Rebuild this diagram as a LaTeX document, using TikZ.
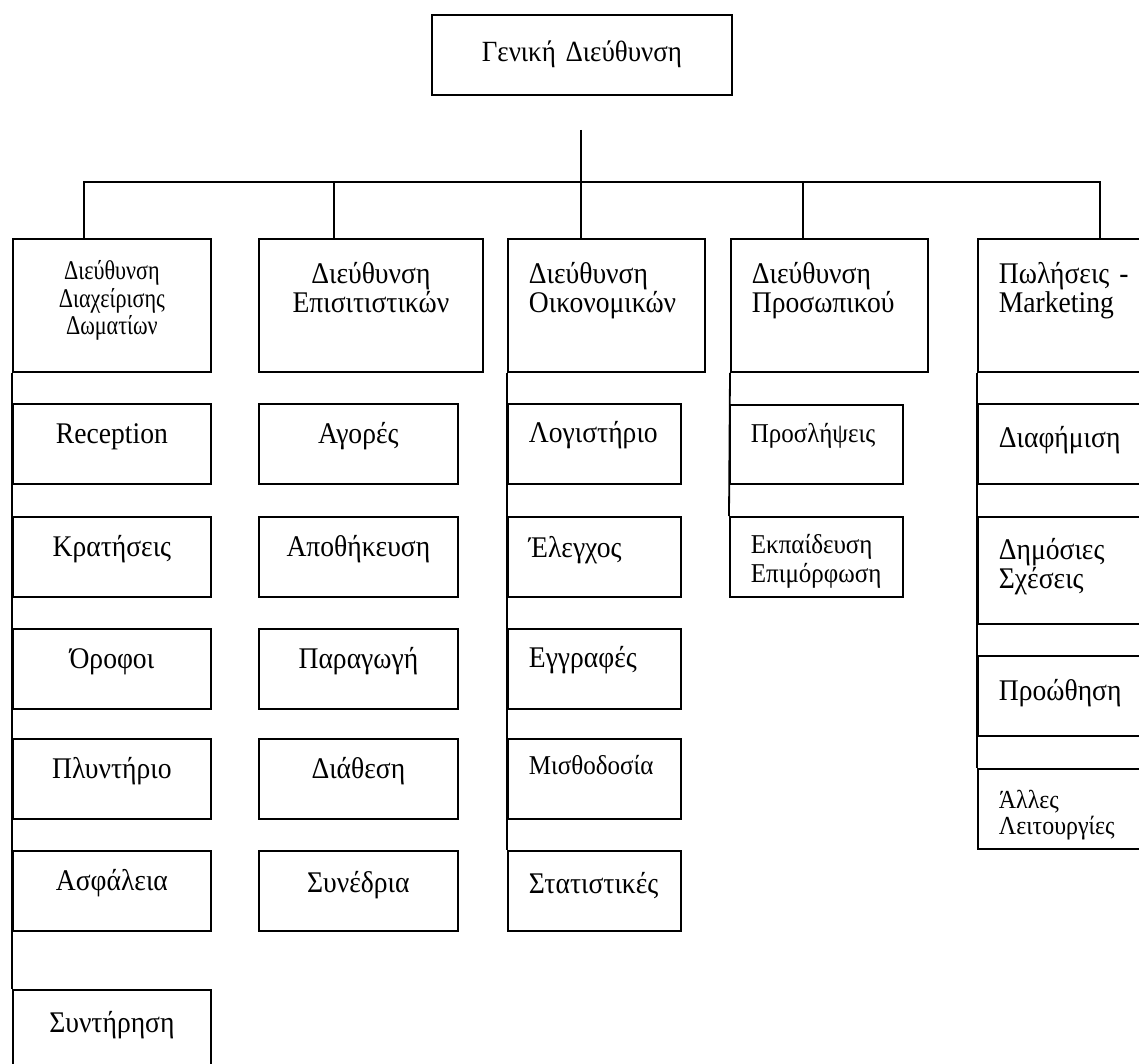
\documentclass[tikz,border=0pt]{standalone}
\usepackage{fontspec}
\setmainfont[FakeStretch=0.92]{Liberation Serif}
\newfontfamily\narrowserif[FakeStretch=0.82]{Liberation Serif}
\begin{document}
\begin{tikzpicture}[x=1pt,y=-1pt,
  bx/.style={draw, line width=1.8pt, inner sep=0pt, anchor=north west, font=\fontsize{30}{29}\selectfont},
  cbx/.style n args={3}{bx, align=center, text width=#1, text height=#2, text depth=#3},
  lbx/.style n args={3}{bx, align=left, inner xsep=21pt, text width=#1, text height=#2, text depth=#3},
  small/.style={font=\fontsize{27.2}{29}\selectfont},
  link/.style={line width=1.8pt},
  trunk/.style={line width=2.8pt}]
\fill[white] (0,0) rectangle (1139,1064);
\clip (0,0) rectangle (1139,1064);

% top
\node[cbx={300pt}{47pt}{33pt}, font=\fontsize{29.3}{30}\selectfont] (top) at (431,14) {Γενική Διεύθυνση};

% heads
\node[cbx={198pt}{41pt}{92pt}, font=\narrowserif\fontsize{27}{27.3}\selectfont] (h1) at (12,238) {Διεύθυνση\\Διαχείρισης\\Δωματίων};
\node[cbx={224pt}{45pt}{88pt}] (h2) at (258,238) {Διεύθυνση\\Επισιτιστικών};
\node[lbx={155pt}{45pt}{88pt}] (h3) at (507,238) {Διεύθυνση\\Οικονομικών};
\node[lbx={155pt}{45pt}{88pt}] (h4) at (730,238) {Διεύθυνση\\Προσωπικού};
\node[lbx={180pt}{45pt}{88pt}] (h5) at (977,238) {Πωλήσεις -\\Marketing};

% column 1
\node[cbx={198pt}{40pt}{40pt}] (c1a) at (12,403) {Reception};
\node[cbx={198pt}{40pt}{40pt}] (c1b) at (12,516) {Κρατήσεις};
\node[cbx={198pt}{40pt}{40pt}] (c1c) at (12,628) {Όροφοι};
\node[cbx={198pt}{40pt}{40pt}] (c1d) at (12,738) {Πλυντήριο};
\node[cbx={198pt}{40pt}{40pt}] (c1e) at (12,850) {Ασφάλεια};
\node[cbx={198pt}{43pt}{57pt}] (c1f) at (12,989) {Συντήρηση};

% column 2
\node[cbx={199pt}{40pt}{40pt}] (c2a) at (258,403) {Αγορές};
\node[cbx={199pt}{40pt}{40pt}] (c2b) at (258,516) {Αποθήκευση};
\node[cbx={199pt}{40pt}{40pt}] (c2c) at (258,628) {Παραγωγή};
\node[cbx={199pt}{40pt}{40pt}] (c2d) at (258,738) {Διάθεση};
\node[cbx={199pt}{42pt}{38pt}] (c2e) at (258,850) {Συνέδρια};

% column 3
\node[lbx={131pt}{39pt}{41pt}] (c3a) at (507,403) {Λογιστήριο};
\node[lbx={131pt}{41pt}{39pt}] (c3b) at (507,516) {Έλεγχος};
\node[lbx={131pt}{39pt}{41pt}] (c3c) at (507,628) {Εγγραφές};
\node[lbx={131pt}{36pt}{44pt}, small] (c3d) at (507,738) {Μισθοδοσία};
\node[lbx={131pt}{43pt}{37pt}] (c3e) at (507,850) {Στατιστικές};

% column 4
\node[lbx={131pt}{38pt}{41pt}, small] (c4a) at (729,404) {Προσλήψεις};
\node[lbx={131pt}{37pt}{43pt}, small] (c4b) at (729,516) {Εκπαίδευση\\Επιμόρφωση};

% column 5
\node[lbx={180pt}{44pt}{36pt}] (c5a) at (977,403) {Διαφήμιση};
\node[lbx={180pt}{43pt}{64pt}] (c5b) at (977,516) {Δημόσιες\\Σχέσεις};
\node[lbx={180pt}{45pt}{35pt}] (c5c) at (977,655) {Προώθηση};
\node[lbx={180pt}{40pt}{40pt}, font=\fontsize{26}{26}\selectfont] (c5d) at (977,768) {Άλλες\\Λειτουργίες};

% connectors
\coordinate (tk) at (581,130);
\coordinate (tkb) at (581,210);
\coordinate (bus) at (581,182);
\draw[trunk] (tk) -- (tkb);
\draw[link] (bus) -| ([xshift=72pt]h1.north west);
\draw[link] (bus) -| ([xshift=76pt]h2.north west);
\draw[link] (bus) -- ([xshift=74pt]h3.north west);
\draw[link] (bus) -| ([xshift=73pt]h4.north west);
\draw[link] (bus) -| ([xshift=123pt]h5.north west);

% spines
\draw[link] (h1.south west) -- (c1f.north west);
\draw[link] (h3.south west) -- (c3e.north west);
\draw[link] (h4.south west) -- (c4b.north west);
\draw[link] (h5.south west) -- (c5d.north west);
\end{tikzpicture}
\end{document}
